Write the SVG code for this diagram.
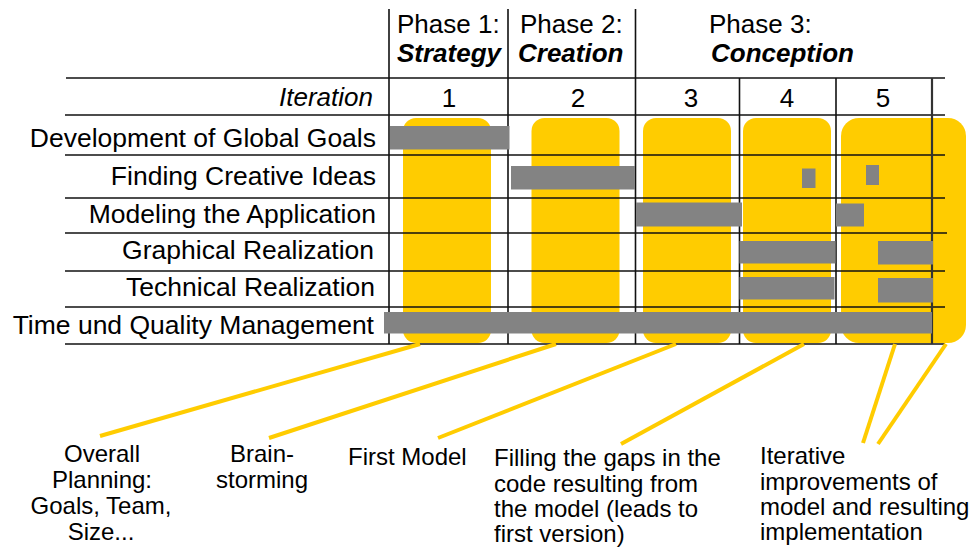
<svg xmlns="http://www.w3.org/2000/svg" width="971" height="550" viewBox="0 0 971 550">
<style>
text { font-family: "Liberation Sans", Arial, sans-serif; fill: #000; }
.h { font-size: 26px; }
.hb { font-size: 26px; font-weight: bold; font-style: italic; }
.row { font-size: 26.5px; text-anchor: end; }
.num { font-size: 26px; text-anchor: middle; }
.note { font-size: 24px; }
.ctr { text-anchor: middle; }
.col { fill: #FFCC00; }
.bar { fill: #838383; }
.grid line { stroke: #111; stroke-width: 1.6; }
.conn line { stroke: #FFCC00; stroke-width: 4; }
</style>
<rect width="971" height="550" fill="#fff"/>

<g id="iterations">
  <rect id="it1" class="col" x="403" y="118" width="88" height="225" rx="13"/>
  <rect id="it2" class="col" x="531.5" y="118" width="88" height="225" rx="13"/>
  <rect id="it3" class="col" x="643" y="118" width="88" height="225" rx="13"/>
  <rect id="it4" class="col" x="743" y="118" width="88" height="225" rx="13"/>
  <rect id="it5" class="col" x="841" y="118" width="125" height="225" rx="18"/>
</g>

<g class="grid" id="grid">
  <line x1="66" y1="78" x2="945" y2="78"/>
  <line x1="65" y1="115" x2="945" y2="115"/>
  <line x1="65" y1="155" x2="945" y2="155"/>
  <line x1="65" y1="198" x2="945" y2="198"/>
  <line x1="65" y1="233" x2="947" y2="233"/>
  <line x1="65" y1="271" x2="945" y2="271"/>
  <line x1="65" y1="307" x2="945" y2="307"/>
  <line x1="65" y1="344" x2="945" y2="344"/>
  <line x1="389" y1="9" x2="389" y2="344"/>
  <line x1="508" y1="9" x2="508" y2="344"/>
  <line x1="635.5" y1="9" x2="635.5" y2="344"/>
  <line x1="739.5" y1="78" x2="739.5" y2="344"/>
  <line x1="836" y1="78" x2="836" y2="344"/>
  <line x1="932" y1="78" x2="932" y2="344" style="stroke:#333;stroke-width:2.2"/>
</g>

<g id="bars">
  <rect class="bar" x="390" y="126" width="119.5" height="23.5"/>
  <rect class="bar" x="511" y="166" width="124" height="23.5"/>
  <rect class="bar" x="802" y="168.5" width="13.5" height="19.5"/>
  <rect class="bar" x="866" y="165" width="13" height="20"/>
  <rect class="bar" x="636" y="202.5" width="106" height="24"/>
  <rect class="bar" x="836" y="203.5" width="28" height="23"/>
  <rect class="bar" x="739.5" y="241" width="96" height="22.5"/>
  <rect class="bar" x="878" y="241" width="55" height="23.5"/>
  <rect class="bar" x="739.5" y="277" width="95" height="22.5"/>
  <rect class="bar" x="878" y="278" width="55" height="24.5"/>
  <rect class="bar" x="384" y="312" width="548" height="21.5"/>
</g>

<g id="header">
  <text class="h" x="397" y="33">Phase 1:</text>
  <text class="hb" x="397" y="62">Strategy</text>
  <text class="h" x="520" y="33">Phase 2:</text>
  <text class="hb" x="518" y="62">Creation</text>
  <text class="h" x="709" y="33">Phase 3:</text>
  <text class="hb" x="711" y="62">Conception</text>
  <text class="row" x="373" y="106" style="font-style:italic;font-size:26px">Iteration</text>
  <text class="num" x="449" y="107">1</text>
  <text class="num" x="578" y="107">2</text>
  <text class="num" x="691" y="107">3</text>
  <text class="num" x="787" y="107">4</text>
  <text class="num" x="883" y="107">5</text>
</g>

<g id="rows">
  <text class="row" x="376" y="147">Development of Global Goals</text>
  <text class="row" x="376" y="185">Finding Creative Ideas</text>
  <text class="row" x="376" y="223">Modeling the Application</text>
  <text class="row" x="374" y="259">Graphical Realization</text>
  <text class="row" x="375" y="296">Technical Realization</text>
  <text class="row" x="374" y="334">Time und Quality Management</text>
</g>

<g class="conn" id="connectors">
  <line x1="420" y1="344" x2="100" y2="436"/>
  <line x1="556" y1="344" x2="269" y2="438"/>
  <line x1="676" y1="344" x2="438" y2="438"/>
  <line x1="804" y1="344" x2="621" y2="444"/>
  <line x1="895" y1="344" x2="863" y2="443"/>
  <line x1="946" y1="344" x2="878" y2="444"/>
</g>

<g id="note1">
  <text class="note ctr" x="102" y="462">Overall</text>
  <text class="note ctr" x="102" y="488">Planning:</text>
  <text class="note ctr" x="101" y="514">Goals, Team,</text>
  <text class="note ctr" x="101" y="540">Size...</text>
</g>
<g id="note2">
  <text class="note ctr" x="262" y="462">Brain-</text>
  <text class="note ctr" x="262" y="488">storming</text>
</g>
<g id="note3">
  <text class="note" x="348" y="465">First Model</text>
</g>
<g id="note4">
  <text class="note" x="494" y="466">Filling the gaps in the</text>
  <text class="note" x="494" y="492">code resulting from</text>
  <text class="note" x="494" y="517">the model (leads to</text>
  <text class="note" x="494" y="542">first version)</text>
</g>
<g id="note5">
  <text class="note" x="760" y="464">Iterative</text>
  <text class="note" x="760" y="490">improvements of</text>
  <text class="note" x="760" y="515">model and resulting</text>
  <text class="note" x="760" y="540">implementation</text>
</g>
</svg>
